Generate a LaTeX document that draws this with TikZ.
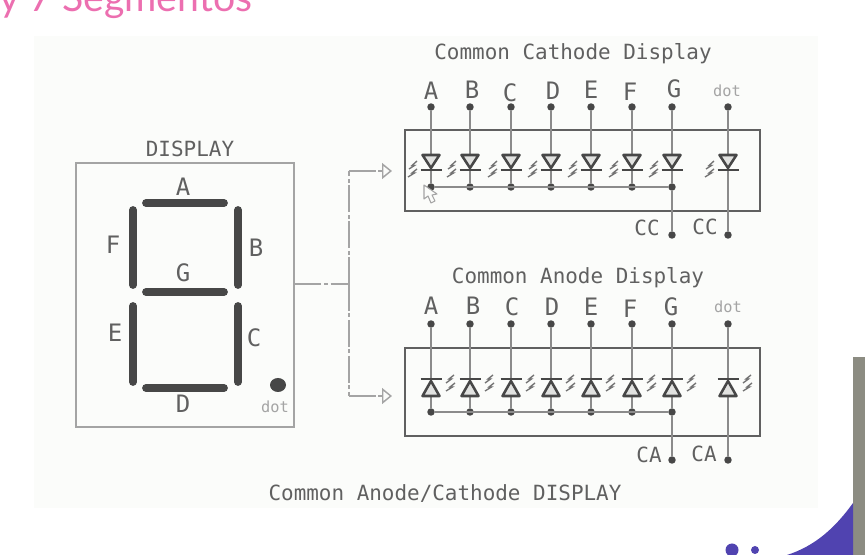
\documentclass[tikz,border=0pt]{standalone}
\usepackage{fontspec}
\newfontfamily\cadfont{DejaVu Sans Mono}
\newfontfamily\slidefont{Lato}
\usetikzlibrary{arrows.meta}
\definecolor{inkdark}{HTML}{474747}
\definecolor{inkmid}{HTML}{606060}
\definecolor{inkpale}{HTML}{A4A4A4}
\definecolor{panelbg}{HTML}{FBFCFA}
\definecolor{slidepink}{HTML}{EC6FB0}
\definecolor{slidepurple}{HTML}{5043B0}
\definecolor{slidegray}{HTML}{8C8C82}
\tikzset{
  caption/.style={font=\cadfont\fontsize{15.7}{18}\selectfont, text=inkmid, inner sep=0pt},
  letter/.style={font=\cadfont\fontsize{18}{20}\selectfont, text=inkmid, inner sep=0pt},
  dotlabel/.style={font=\cadfont\fontsize{11.5}{14}\selectfont, text=inkpale, inner sep=0pt},
  pad/.style={circle, fill=inkdark, minimum size=5.6pt, inner sep=0pt},
  wire/.style={draw=inkpale!85!black, line width=1.3pt},
  module/.style={draw=inkmid, line width=1.7pt, inner sep=0pt, minimum width=266pt},
  segment/.style={line width=5.8pt, line cap=round, color=inkdark},
  dashdot/.style={draw=inkpale, line width=1.1pt, dash pattern=on 20pt off 2pt on 3pt off 2pt},
  flash/.style={draw=inkpale!70!black, line width=1pt},
  ledcc/.pic={
    \draw[line width=1.9pt, draw=inkdark, fill=panelbg!70!inkpale, line join=round] (-8.5,155) -- (8.5,155) -- (0,168) -- cycle;
    \draw[line width=1.9pt, draw=inkdark] (-10.5,170) -- (10.5,170);
    \draw[flash] (-14,161) -- (-19,165.5) -- (-16.5,165.5) -- (-22,169);
    \draw[flash] (-14,169) -- (-19,173) -- (-16.5,173) -- (-23,177);
  },
  ledca/.pic={
    \draw[line width=1.9pt, draw=inkdark, fill=panelbg!70!inkpale, line join=round] (-8.5,396) -- (8.5,396) -- (0,381) -- cycle;
    \draw[line width=1.9pt, draw=inkdark] (-10.5,379) -- (10.5,379);
    \draw[flash] (23,375) -- (18,379) -- (20.5,379) -- (15,383);
    \draw[flash] (24,383) -- (19,387) -- (21.5,387) -- (15,391);
  }
}
\begin{document}
\begin{tikzpicture}[x=0.75pt, y=-0.75pt]
  \useasboundingbox (0,0) rectangle (865,555);
  \clip (0,0) rectangle (865,555);
  \fill[panelbg] (34,36) rectangle (818,508);

  % slide leftovers
  \node[anchor=base west, inner sep=0pt, text=slidepink, font=\slidefont\fontsize{29.4}{32}\selectfont] (slidetitle) at (-1,12) {y 7 Segmentos};
  \fill[slidegray] (853,357) rectangle (865,555);
  \fill[slidepurple] (787,555) .. controls (815,546) and (835,528) .. (853,503) -- (853,555) -- cycle;
  \fill[slidepurple] (732,550) circle (6.5);
  \fill[slidepurple] (755,550) circle (4);

  % display on the left
  \node[draw=inkpale, line width=1.1pt, minimum width=163.5pt, minimum height=198pt, inner sep=0pt] (display) at (185,295) {};
  \node[caption] (displaytitle) at (190,149) {DISPLAY};
  \draw[segment] (146,203) -- (224,203);
  \draw[segment] (146,292) -- (224,292);
  \draw[segment] (146,388) -- (224,388);
  \draw[segment] (133,210) -- (133,285);
  \draw[segment] (133,306) -- (133,382);
  \draw[segment] (238,210) -- (238,285);
  \draw[segment] (238,306) -- (238,382);
  \fill[inkdark] (278,385) ellipse (8 and 7);
  \foreach \seg/\px/\py in {A/183/187, F/113/245, B/256/248, G/183/273, E/115/333, C/254/338, D/183/404}
    \node[letter] (seg\seg) at (\px,\py) {\seg};
  \node[dotlabel] (segdot) at (275,407) {dot};

  % the two modules
  \node[module, minimum height=60.5pt] (ccbox) at (582.5,170.5) {};
  \node[module, minimum height=66pt] (cabox) at (582.5,392) {};
  \node[caption] (cctitle) at (573,54) {Common Cathode Display};
  \node[caption] (catitle) at (578,278) {Common Anode Display};
  \node[caption] (maintitle) at (445,494) {Common Anode/Cathode DISPLAY};

  % split towards the modules
  \coordinate (split) at (349,284);
  \coordinate (ccin) at (392,171);
  \coordinate (cain) at (392,396);
  \draw[dashdot] (split -| display.east) -- (split);
  \draw[dashdot] (split) -- (split |- ccin);
  \draw[dashdot] (split) -- (split |- cain);
  \draw[dashdot, -{Triangle[open, length=7.5pt, width=12pt]}] (split |- ccin) -- (ccin);
  \draw[dashdot, -{Triangle[open, length=7.5pt, width=12pt]}] (split |- cain) -- (cain);

  % cathode row
  \foreach \seg/\px/\tx/\ty in {A/431/431/91, B/470/472/90, C/511/510/93, D/551/553/91, E/591/591/90, F/632/630/92, G/672/674/89}{
    \node[letter] (cclabel\seg) at (\tx,\ty) {\seg};
    \node[pad] (cctop\seg) at (\px,107) {};
    \node[pad] (ccbus\seg) at (\px,187) {};
    \draw[wire] (cctop\seg) -- (ccbus\seg);
    \pic at (\px,0) {ledcc};
  }
  \node[dotlabel] (cclabeldot) at (727,91) {dot};
  \node[pad] (cctopdot) at (728,107) {};
  \node[pad] (ccoutG) at (672,235) {};
  \node[pad] (ccoutdot) at (728,235) {};
  \draw[wire] (ccbusA) -- (ccbusG);
  \draw[wire] (ccbusG) -- (ccoutG);
  \draw[wire] (cctopdot) -- (ccoutdot);
  \pic at (728,0) {ledcc};
  \node[caption] (cclabelone) at (647,228) {CC};
  \node[caption] (cclabeltwo) at (705,227) {CC};

  % mouse pointer caught on the screen
  \draw[inkpale, line width=.8pt, fill=panelbg, line join=round] (424,185) -- (424,199) -- (428,196) -- (431,203) -- (435,201) -- (432,195) -- (437,194) -- cycle;

  % anode row
  \foreach \seg/\px/\tx/\ty in {A/431/431/306, B/470/473/306, C/511/512/307, D/551/552/307, E/591/591/307, F/632/630/309, G/672/671/307}{
    \node[letter] (calabel\seg) at (\tx,\ty) {\seg};
    \node[pad] (catop\seg) at (\px,324) {};
    \node[pad] (cabus\seg) at (\px,412) {};
    \draw[wire] (catop\seg) -- (cabus\seg);
    \pic at (\px,0) {ledca};
  }
  \node[dotlabel] (calabeldot) at (728,307) {dot};
  \node[pad] (catopdot) at (728,324) {};
  \node[pad] (caoutG) at (672,460) {};
  \node[pad] (caoutdot) at (728,460) {};
  \draw[wire] (cabusA) -- (cabusG);
  \draw[wire] (cabusG) -- (caoutG);
  \draw[wire] (catopdot) -- (caoutdot);
  \pic at (728,0) {ledca};
  \node[caption] (calabelone) at (649,455) {CA};
  \node[caption] (calabeltwo) at (704,454) {CA};
\end{tikzpicture}
\end{document}
